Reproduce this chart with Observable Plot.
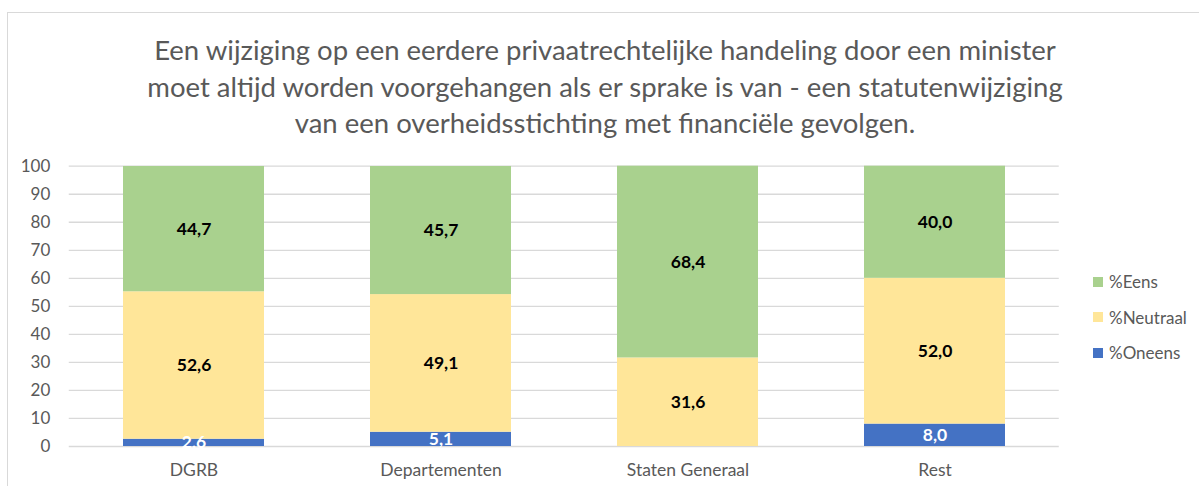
<!DOCTYPE html>
<html>
<head>
<meta charset="utf-8">
<script src="https://cdn.jsdelivr.net/npm/d3@7"></script>
<script src="https://cdn.jsdelivr.net/npm/@observablehq/plot@0.6"></script>
<style>
  html, body { margin: 0; padding: 0; background: #fff; }
  #wrap { position: relative; width: 1199px; height: 486px; overflow: hidden; font-family: Lato, "Open Sans", sans-serif; }
  #frame { position: absolute; left: 7px; top: 12px; width: 1300px; height: 600px; border-top: 1.5px solid #d9d9d9; border-left: 1.5px solid #d9d9d9; }
  #title { position: absolute; left: 0; top: 32px; width: 1210px; text-align: center; color: #595959; font-size: 27.5px; line-height: 36.5px; }
  #chart { position: absolute; left: 0; top: 150px; }
  #legend { position: absolute; left: 1093px; top: 264px; color: #595959; font-size: 17px; }
  .li { display: flex; align-items: center; height: 35.5px; }
  .sw { width: 10px; height: 10px; margin-right: 6px; }
</style>
</head>
<body>
<div id="wrap">
  <div id="frame"></div>
  <div id="title"></div>
  <div id="chart"></div>
  <div id="legend"></div>
</div>
<script>
const titleLines = [
  "Een wijziging op een eerdere privaatrechtelijke handeling door een minister",
  "moet altijd worden voorgehangen als er sprake is van - een statutenwijziging",
  "van een overheidsstichting met financiële gevolgen."
];
const categories = ["DGRB", "Departementen", "Staten Generaal", "Rest"];
const series = ["%Oneens", "%Neutraal", "%Eens"];
const oneens = [2.6, 5.1, 0.0, 8.0];
const neutraal = [52.6, 49.1, 31.6, 52.0];
const eens = [44.7, 45.7, 68.4, 40.0];
const colors = ["#4472C4", "#FFE699", "#A9D18E"];
const labelColors = ["#ffffff", "#000000", "#000000"];
const yTicks = [0, 10, 20, 30, 40, 50, 60, 70, 80, 90, 100];

const seriesValues = [oneens, neutraal, eens];
const data = [];
series.forEach((s, si) => {
  categories.forEach((c, ci) => {
    data.push({category: c, series: s, value: seriesValues[si][ci], labelColor: labelColors[si]});
  });
});

document.getElementById("title").innerHTML = titleLines.map(l => `<div>${l}</div>`).join("");

const fmt = v => v.toFixed(1).replace(".", ",");

const plot = Plot.plot({
  width: 1199,
  height: 336,
  marginLeft: 68.75,
  marginRight: 140.25,
  marginTop: 15.7,
  marginBottom: 40,
  style: {fontFamily: "Lato, 'Open Sans', sans-serif", fontSize: "17px", color: "#595959", background: "transparent"},
  x: {domain: categories, paddingInner: 0.43, paddingOuter: 0.215, label: null},
  y: {domain: [0, 100], label: null},
  color: {domain: series, range: colors},
  marks: [
    Plot.gridY(yTicks, {stroke: "#d9d9d9", strokeOpacity: 1, strokeWidth: 1.3}),
    Plot.axisY({ticks: yTicks, tickSize: 0, tickPadding: 19, label: null, fill: "#595959", fontSize: 17}),
    Plot.axisX({tickSize: 0, tickPadding: 17, label: null, fill: "#595959", fontSize: 17.5}),
    Plot.barY(data, {x: "category", y: "value", z: "series", fill: "series"}),
    Plot.text(data, Plot.stackY({
      x: "category", y: "value", z: "series",
      text: d => d.value > 0 ? fmt(d.value) : "",
      fill: "labelColor", fontWeight: "bold", fontSize: 17.5
    }))
  ]
});
document.getElementById("chart").appendChild(plot);

const legendOrder = [2, 1, 0];
document.getElementById("legend").innerHTML = legendOrder.map(i =>
  `<div class="li"><div class="sw" style="background:${colors[i]}"></div><span>${series[i]}</span></div>`
).join("");
</script>
</body>
</html>
